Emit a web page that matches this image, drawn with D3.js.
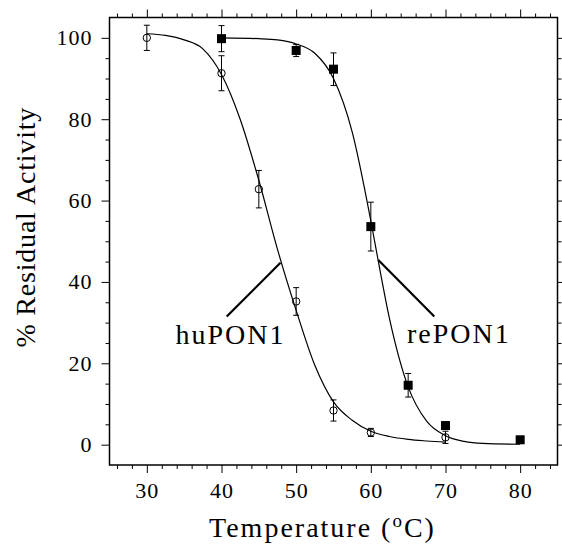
<!DOCTYPE html>
<html lang="en">
	<head>
		<meta charset="utf-8">
		<title>Residual activity vs temperature</title>
		<script type="text/javascript" src="https://cdn.jsdelivr.net/npm/d3@7"></script>
		<style>
			body { margin: 0; background: #fff; }
			text { font-family: "Liberation Serif", "Times New Roman", serif; fill: #000; }
		</style>
	</head>
	<body>
		<script type="text/javascript">

			//
			// Data
			//

			var huTemps = [30, 40, 45, 50, 55, 60, 70];
			var huActivity = [100, 91.3, 62.8, 35.2, 8.4, 3.0, 1.8];
			var huError = [3.1, 4.3, 4.6, 3.4, 2.6, 1.0, 1.5];

			var reTemps = [40, 50, 55, 60, 65, 70, 80];
			var reActivity = [99.8, 96.9, 92.3, 53.6, 14.6, 4.7, 1.2];
			var reError = [3.2, 1.5, 4.0, 6.0, 2.9, 0, 0];

			// fitted curves
			var huCurveT = [30, 32.5, 35, 37.5, 40, 42.5, 45, 47.5, 50, 52.5, 55, 57.5, 60, 62.5, 65, 67.5, 70];
			var huCurveY = [101, 100.6, 99.5, 97.3, 91, 80, 65, 48, 33, 19.5, 10.5, 6, 3.3, 2, 1.3, 0.9, 0.6];

			var reCurveT = [40, 45, 47.5, 50, 52.5, 55, 57.5, 60, 61, 62.5, 65, 67.5, 70, 72.5, 75, 80];
			var reCurveY = [100, 99.8, 99.5, 98.5, 96.2, 90, 76.9, 55, 45.1, 31, 14.2, 5.7, 2.2, 0.8, 0.3, 0.1];

			var xMajorTicks = [30, 40, 50, 60, 70, 80];
			var yMajorTicks = [0, 20, 40, 60, 80, 100];

			var labelNames = ["huPON1", "rePON1"];
			var labelText = [[41.2, 24.7], [71.8, 24.9]];
			var labelLineFrom = [[40.7, 31.5], [68.5, 31.5]];
			var labelLineTo = [[47.9, 44.7], [61.0, 45.4]];

			//
			// Chart
			//

			var W = 562, H = 544;
			var pLeft = 109.5, pTop = 17.5, pRight = 557.5, pBottom = 465;

			var svg = d3.select("body")
				.append("svg")
				.attr("width", W)
				.attr("height", H);

			var x = d3.scaleLinear().domain([25, 85]).range([pLeft, pRight]);
			var y = d3.scaleLinear().domain([-5, 105]).range([pBottom, pTop]);

			var xMinor = d3.range(26, 85, 2).filter(function(v) { return v % 10 !== 0; });
			var yMinor = d3.range(5, 105, 5).filter(function(v) { return v % 20 !== 0; });

			var axisStyle = function(g) {
				g.select(".domain").remove();
				g.selectAll("line").attr("stroke", "#000").attr("stroke-width", 1);
				g.selectAll("text")
					.style("font-size", "22px")
					.style("letter-spacing", "1px");
			};

			// bottom
			svg.append("g").attr("transform", "translate(0," + pBottom + ")")
				.call(d3.axisBottom(x).tickValues(xMajorTicks).tickSize(8).tickPadding(9).tickFormat(d3.format("d")))
				.call(axisStyle);
			svg.append("g").attr("transform", "translate(0," + pBottom + ")")
				.call(d3.axisBottom(x).tickValues(xMinor).tickSize(4).tickFormat(""))
				.call(axisStyle);
			// top
			svg.append("g").attr("transform", "translate(0," + pTop + ")")
				.call(d3.axisTop(x).tickValues(xMajorTicks).tickSize(8).tickFormat(""))
				.call(axisStyle);
			svg.append("g").attr("transform", "translate(0," + pTop + ")")
				.call(d3.axisTop(x).tickValues(xMinor).tickSize(4).tickFormat(""))
				.call(axisStyle);
			// left
			svg.append("g").attr("transform", "translate(" + pLeft + ",0)")
				.call(d3.axisLeft(y).tickValues(yMajorTicks).tickSize(8).tickPadding(9).tickFormat(d3.format("d")))
				.call(axisStyle);
			svg.append("g").attr("transform", "translate(" + pLeft + ",0)")
				.call(d3.axisLeft(y).tickValues(yMinor).tickSize(4).tickFormat(""))
				.call(axisStyle);
			// right
			svg.append("g").attr("transform", "translate(" + pRight + ",0)")
				.call(d3.axisRight(y).tickValues(yMajorTicks).tickSize(8).tickFormat(""))
				.call(axisStyle);
			svg.append("g").attr("transform", "translate(" + pRight + ",0)")
				.call(d3.axisRight(y).tickValues(yMinor).tickSize(4).tickFormat(""))
				.call(axisStyle);

			// frame
			svg.append("rect")
				.attr("x", pLeft).attr("y", pTop)
				.attr("width", pRight - pLeft).attr("height", pBottom - pTop)
				.attr("fill", "none").attr("stroke", "#000").attr("stroke-width", 1.5);

			// fitted curves
			var line = d3.line()
				.x(function(d) { return x(d[0]); })
				.y(function(d) { return y(d[1]); })
				.curve(d3.curveMonotoneX);

			var curves = [d3.zip(huCurveT, huCurveY), d3.zip(reCurveT, reCurveY)];
			svg.selectAll("path.fit")
				.data(curves)
				.enter()
				.append("path")
				.attr("class", "fit")
				.attr("d", line)
				.attr("fill", "none")
				.attr("stroke", "#000")
				.attr("stroke-width", 1.2);

			// error bars
			var drawErrors = function(temps, vals, errs) {
				var pts = d3.zip(temps, vals, errs).filter(function(d) { return d[2] > 0; });
				var g = svg.append("g").attr("stroke", "#000").attr("stroke-width", 1);
				g.selectAll("line.v").data(pts).enter().append("line")
					.attr("x1", function(d) { return x(d[0]); })
					.attr("x2", function(d) { return x(d[0]); })
					.attr("y1", function(d) { return y(d[1] - d[2]); })
					.attr("y2", function(d) { return y(d[1] + d[2]); });
				[-1, 1].forEach(function(s) {
					g.selectAll("line.c" + (s + 1)).data(pts).enter().append("line")
						.attr("x1", function(d) { return x(d[0]) - 3; })
						.attr("x2", function(d) { return x(d[0]) + 3; })
						.attr("y1", function(d) { return y(d[1] + s * d[2]); })
						.attr("y2", function(d) { return y(d[1] + s * d[2]); });
				});
			};
			drawErrors(huTemps, huActivity, huError);
			drawErrors(reTemps, reActivity, reError);

			// markers
			svg.selectAll("circle.hu")
				.data(d3.zip(huTemps, huActivity))
				.enter()
				.append("circle")
				.attr("cx", function(d) { return x(d[0]); })
				.attr("cy", function(d) { return y(d[1]); })
				.attr("r", 3.7)
				.attr("fill", "none")
				.attr("stroke", "#000")
				.attr("stroke-width", 1);

			svg.selectAll("rect.re")
				.data(d3.zip(reTemps, reActivity))
				.enter()
				.append("rect")
				.attr("x", function(d) { return x(d[0]) - 4.5; })
				.attr("y", function(d) { return y(d[1]) - 4.5; })
				.attr("width", 9)
				.attr("height", 9)
				.attr("fill", "#000");

			// labels with pointer lines
			labelNames.forEach(function(name, i) {
				svg.append("line")
					.attr("x1", x(labelLineFrom[i][0])).attr("y1", y(labelLineFrom[i][1]))
					.attr("x2", x(labelLineTo[i][0])).attr("y2", y(labelLineTo[i][1]))
					.attr("stroke", "#000").attr("stroke-width", 2.2);
				svg.append("text")
					.attr("x", x(labelText[i][0]))
					.attr("y", y(labelText[i][1]))
					.attr("text-anchor", "middle")
					.style("font-size", "28px")
					.style("letter-spacing", "2px")
					.text(name);
			});

			// axis titles
			var xt = svg.append("text")
				.attr("x", (pLeft + pRight) / 2 - 11)
				.attr("y", 537)
				.attr("text-anchor", "middle")
				.style("font-size", "28px")
				.style("letter-spacing", "2px");
			xt.append("tspan").text("Temperature (");
			xt.append("tspan").attr("dy", -10).style("font-size", "19px").text("o");
			xt.append("tspan").attr("dy", 10).text("C)");

			svg.append("text")
				.attr("transform", "translate(35," + ((pTop + pBottom) / 2 - 14) + ") rotate(-90)")
				.attr("text-anchor", "middle")
				.style("font-size", "28px")
				.style("letter-spacing", "0.8px")
				.text("% Residual Activity");

		</script>
	</body>
</html>
